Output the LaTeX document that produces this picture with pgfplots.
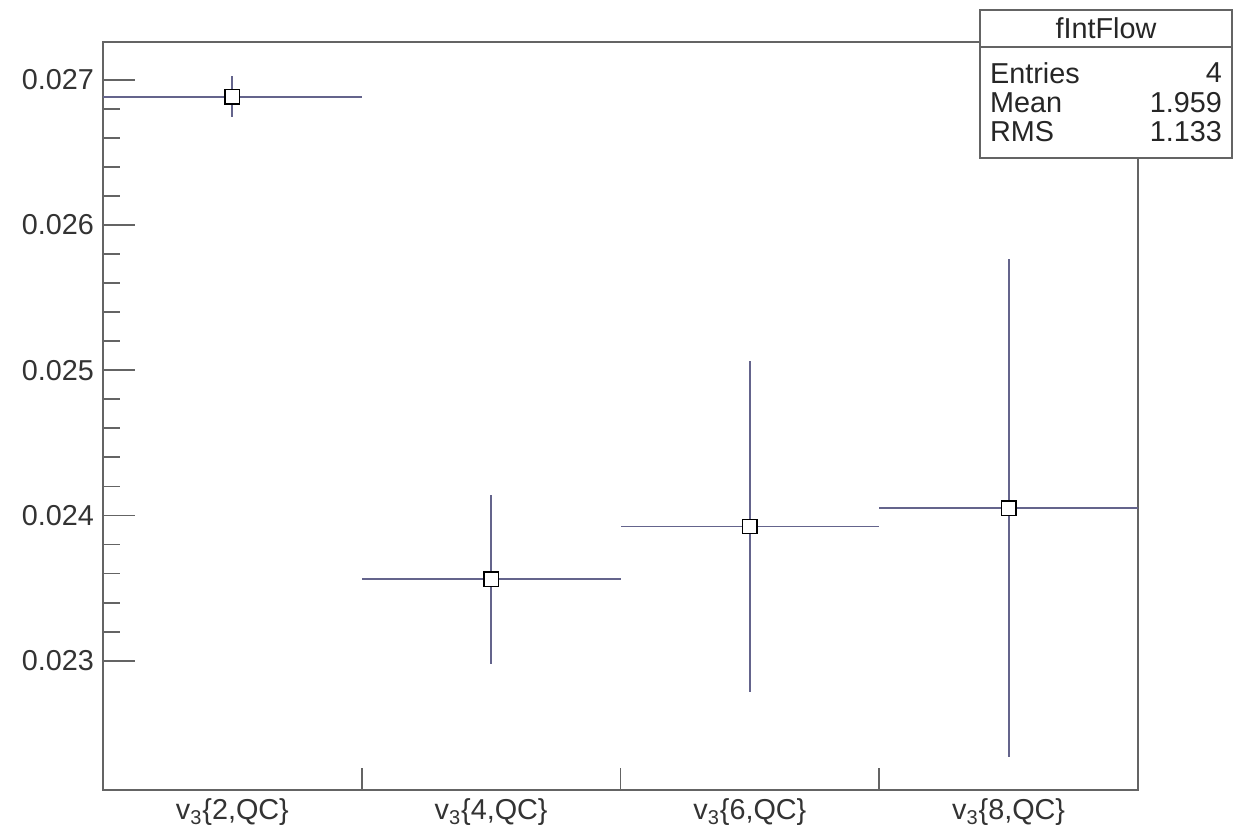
\documentclass[border=0pt]{standalone}
\usepackage{fontspec}
\setmainfont{Liberation Sans}
\usepackage{pgfplots}
\usepackage{pgfplotstable}
\pgfplotsset{compat=1.18}
\definecolor{framegray}{RGB}{100,100,100}
\definecolor{errblue}{RGB}{100,100,140}

\pgfplotstableread{
x    y        ex   ey
0.5  0.026883 0.5  0.000140
1.5  0.023560 0.5  0.000580
2.5  0.023924 0.5  0.001139
3.5  0.024050 0.5  0.001716
}\flowdata

\begin{document}
\begin{tikzpicture}
\useasboundingbox (-51.5pt,-22pt) rectangle (565pt,395pt);
\begin{axis}[
  at={(0,0)}, anchor=south west,
  scale only axis, width=517.5pt, height=374pt,
  xmin=0, xmax=4, ymin=0.02211, ymax=0.02726,
  axis line style={framegray, line width=0.9pt},
  font=\fontsize{14.4}{17}\selectfont,
  xtick={0.5,1.5,2.5,3.5},
  xticklabels={{v\textsubscript{3}\{2,QC\}},{v\textsubscript{3}\{4,QC\}},{v\textsubscript{3}\{6,QC\}},{v\textsubscript{3}\{8,QC\}}},
  x tick style={draw=none},
  ytick={0.023,0.024,0.025,0.026,0.027},
  minor y tick num=4,
  yticklabel style={/pgf/number format/fixed, /pgf/number format/fixed zerofill,
    /pgf/number format/precision=3, /pgf/number format/assume math mode=true},
  scaled y ticks=false,
  tick align=inside,
  xtick pos=bottom, ytick pos=left,
  major tick length=16pt, minor tick length=8.5pt,
  y tick style={framegray, line width=0.9pt},
  tick label style={black!80},
  xticklabel style={yshift=-1pt},
  yticklabel style={xshift=-1pt},
]
% bin-edge ticks on the x axis
\draw[framegray, line width=0.9pt] (axis cs:1,0.02211) -- (axis cs:1,0.0222615);
\draw[framegray, line width=0.9pt] (axis cs:2,0.02211) -- (axis cs:2,0.0222615);
\draw[framegray, line width=0.9pt] (axis cs:3,0.02211) -- (axis cs:3,0.0222615);
\addplot[only marks, mark=square*, mark size=3.6pt,
  mark options={fill=white, draw=black, line width=0.7pt},
  error bars/.cd, x dir=both, x explicit, y dir=both, y explicit,
  error mark=none,
  error bar style={errblue, line width=0.9pt}]
  table[x=x, y=y, x error=ex, y error=ey] {\flowdata};
\addplot[only marks, mark=square*, mark size=3.6pt,
  mark options={fill=white, draw=black, line width=0.7pt}]
  table[x=x, y=y] {\flowdata};
\end{axis}
% statistics box
\begin{scope}[font=\fontsize{14.4}{17}\selectfont]
\draw[framegray, line width=0.9pt, fill=white] (438.5pt,316pt) rectangle (564.5pt,390pt);
\draw[framegray, line width=0.9pt] (438.5pt,371.5pt) -- (564.5pt,371.5pt);
\node[anchor=center, black!85] at (501.5pt,381pt) {fIntFlow};
\node[anchor=west, black!85] at (440pt,358.5pt) {Entries};
\node[anchor=west, black!85] at (440pt,343.5pt) {Mean};
\node[anchor=west, black!85] at (440pt,329pt) {RMS};
\node[anchor=east, black!85] at (563pt,358.5pt) {4};
\node[anchor=east, black!85] at (563pt,343.5pt) {1.959};
\node[anchor=east, black!85] at (563pt,329pt) {1.133};
\end{scope}
\end{tikzpicture}
\end{document}
